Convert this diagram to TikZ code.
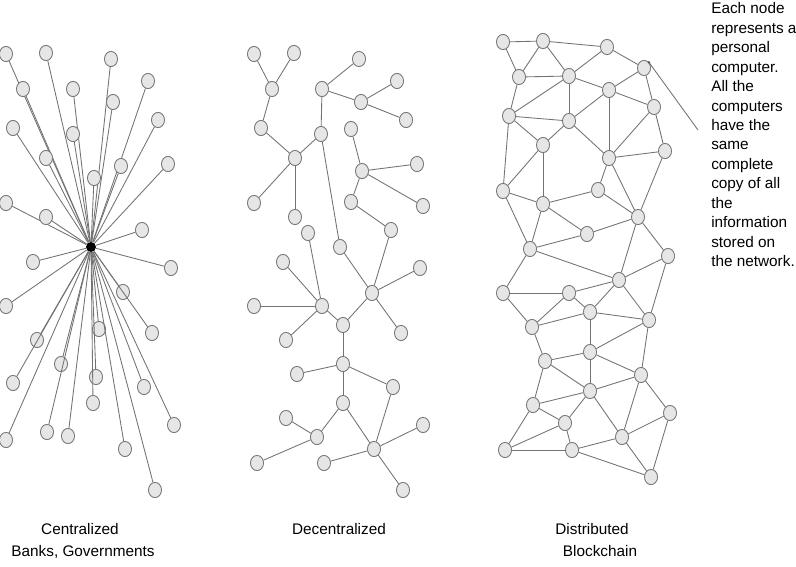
\documentclass[tikz,border=0pt]{standalone}
\usepackage{fontspec}
\setmainfont{Liberation Sans}
\usetikzlibrary{shapes.geometric}
\definecolor{nodefill}{HTML}{E6E6E6}
\definecolor{nodeline}{HTML}{777777}
\definecolor{edgecol}{HTML}{737373}
\begin{document}
\begin{tikzpicture}[x=0.75pt,y=-0.75pt,
  nd/.style={ellipse,draw=nodeline,fill=nodefill,line width=0.65pt,minimum width=9.8pt,minimum height=11.4pt,inner sep=0pt},
  hubnode/.style={circle,fill=black,minimum size=7.5pt,inner sep=0pt},
  ln/.style={draw=edgecol,line width=0.65pt},
  lbl/.style={font=\fontsize{11.5pt}{14.6pt}\selectfont,inner sep=0pt}]
\useasboundingbox (0,0) rectangle (796,567);

% ---------------- Centralized ----------------
\node[hubnode] (hub) at (91,247) {};
\foreach \x/\y [count=\i] in {6/54,46/53,111/59,148/81,23/89,73/89,113/102,158/120,13/128,73/134,
  46/158,121/166,168/164,94/178,6/203,46/217,142/230,33/262,171/268,6/306,123/292,152/333,99/329,
  37/340,61/364,13/383,96/377,144/387,93/403,174/425,6/440,47/432,68/436,125/449,155/490}
{
  \node[nd] (c\i) at (\x,\y) {};
  \draw[ln] (c\i) -- (hub);
}

% ---------------- Decentralized ----------------
\foreach \n/\x/\y in {a1/254/54,a2/294/53,a3/272/89,a4/359/59,a5/397/81,a6/322/89,a7/361/102,a8/406/120,
  a9/261/128,a10/321/134,a11/351/129,a12/295/158,a13/362/171,a14/417/164,a15/254/203,a16/295/217,
  a17/351/202,a18/423/206,a19/391/230,a20/308/233,a21/340/247,a22/283/262,a23/420/268,
  b1/322/306,b2/254/306,b3/372/293,b4/343/325,b5/286/340,b6/401/333,b7/343/364,b8/297/374,
  b9/393/387,b10/343/403,b11/286/418,b12/317/437,b13/423/425,b14/374/449,b15/257/463,b16/324/463,b17/403/490}
{ \node[nd] (\n) at (\x,\y) {}; }
\foreach \u/\v in {a1/a3,a2/a3,a3/a9,a9/a12,a12/a10,a12/a15,a12/a16,a10/a6,a6/a4,a6/a7,a7/a5,a7/a8,
  a10/a21,a21/b3,a11/a13,a13/a14,a13/a18,a13/a17,a17/a19,a19/b3,a20/b1,a22/b1,
  b2/b1,b5/b1,b1/b4,b4/b3,b3/a23,b3/b6,b4/b7,b7/b8,b7/b9,b7/b10,b9/b14,b10/b12,b10/b14,
  b11/b12,b12/b15,b14/b13,b14/b16,b14/b17}
{ \draw[ln] (\u) -- (\v); }

% ---------------- Distributed ----------------
\foreach \n/\x/\y in {e1/503/42,e2/543/41,e3/607/47,e4/644/68,e5/519/77,e6/569/76,e7/609/90,e8/654/107,
  e9/509/116,e10/569/121,e11/543/145,e12/609/158,e13/665/151,e14/503/191,e15/598/190,e16/543/204,
  e17/638/217,e18/587/234,e19/530/249,e20/668/256,
  f1/619/280,f2/503/293,f3/569/293,f4/590/312,f5/649/320,f6/532/327,f7/590/352,f8/545/361,
  f9/641/375,f10/590/391,f11/533/405,f12/670/413,f13/565/423,f14/622/437,f15/505/450,f16/572/450,f17/651/477}
{ \node[nd] (\n) at (\x,\y) {}; }
\foreach \u/\v in {e1/e2,e1/e5,e2/e5,e2/e3,e2/e6,e3/e6,e3/e4,e5/e6,e5/e9,e6/e9,e6/e7,e6/e10,e9/e10,
  e9/e11,e9/e14,e10/e7,e10/e12,e11/e10,e7/e4,e7/e8,e7/e12,e4/e8,e8/e12,e8/e13,e12/e13,e11/e14,e11/e16,
  e12/e15,e12/e17,e15/e16,e15/e17,e13/e17,e14/e16,e14/e19,e16/e18,e16/e19,e17/e18,e18/e19,e17/e20,
  e17/f1,e19/f1,e19/f2,e20/f1,e20/f5,
  f2/f3,f2/f6,f3/f1,f3/f4,f3/f6,f1/f4,f1/f5,f4/f5,f4/f6,f4/f7,f7/f5,f6/f8,f8/f7,f8/f11,f8/f10,
  f7/f9,f7/f10,f5/f9,f9/f10,f9/f12,f9/f14,f10/f11,f10/f13,f10/f14,f11/f13,f11/f15,f13/f15,f13/f16,
  f15/f16,f16/f14,f16/f17,f14/f12,f14/f17,f12/f17}
{ \draw[ln] (\u) -- (\v); }

% annotation
\coordinate (ann) at (698,130);
\draw[ln] (e4.north east) -- (ann);
\fill[black!70] (e4.north east) circle (1.3);
\node[lbl,anchor=north west,align=left] (note) at (711,2.3)
  {Each node\\represents a\\personal\\computer.\\All the\\computers\\have the\\same\\complete\\copy of all\\the\\information\\stored on\\the network.};

% labels
\node[lbl,anchor=base] (l1) at (80,534) {Centralized};
\node[lbl,anchor=base] (l2) at (83,556) {Banks, Governments};
\node[lbl,anchor=base] (l3) at (339,534) {Decentralized};
\node[lbl,anchor=base] (l4) at (592,534) {Distributed};
\node[lbl,anchor=base] (l5) at (600,556) {Blockchain};
\end{tikzpicture}
\end{document}
